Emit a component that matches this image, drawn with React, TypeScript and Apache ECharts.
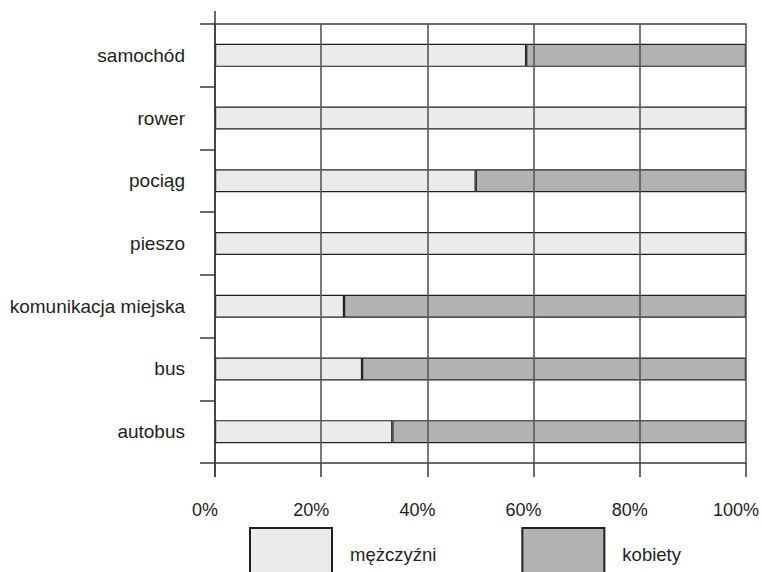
import React, { useEffect, useRef } from "react";
import * as echarts from "echarts";

const categories = ["autobus", "bus", "komunikacja miejska", "pieszo", "pociąg", "rower", "samochód"];
const menValues = [33.4, 27.7, 24.3, 100, 49.1, 100, 58.6];
const womenValues = [66.6, 72.3, 75.7, 0, 50.9, 0, 41.4];
const xTicks = [0, 20, 40, 60, 80, 100];
const seriesNames = ["mężczyźni", "kobiety"];

const FONT = "'Liberation Sans', Arial, sans-serif";
const TEXT = "#231f20";

export default function App() {
  const ref = useRef<HTMLDivElement>(null);
  useEffect(() => {
    if (!ref.current) return;
    const chart = echarts.init(ref.current, null, { renderer: "svg" });
    chart.setOption({
      animation: false,
      backgroundColor: "#ffffff",
      textStyle: { fontFamily: FONT, color: TEXT },
      grid: { left: 215, right: 15, top: 24, bottom: 109, containLabel: false },
      legend: {
        left: 249,
        top: 527,
        padding: 0,
        itemWidth: 82,
        itemHeight: 52,
        itemGap: 85,
        icon: "rect",
        selectedMode: false,
        data: seriesNames,
        textStyle: { fontSize: 18.5, color: TEXT, fontFamily: FONT, padding: [0, 0, 0, 13] },
      },
      xAxis: [
        {
          type: "value",
          min: 0,
          max: 100,
          interval: 20,
          position: "bottom",
          axisLine: { show: true, lineStyle: { color: "#3a3a3c", width: 1.5 } },
          axisTick: { show: true, length: 14, lineStyle: { color: "#3a3a3c", width: 1.5 } },
          splitLine: { show: false },
          axisLabel: {
            formatter: (v: number) => v + "%",
            fontSize: 18,
            color: TEXT,
            fontFamily: FONT,
            margin: 38,
            padding: [0, 20, 0, 0],
          },
        },
        {
          type: "value",
          min: 0,
          max: 100,
          interval: 20,
          position: "top",
          axisLine: { show: true, lineStyle: { color: "#3a3a3c", width: 1.5 } },
          axisTick: { show: false },
          splitLine: { show: false },
          axisLabel: { show: false },
        },
      ],
      yAxis: {
        type: "category",
        data: categories,
        axisLine: { show: true, lineStyle: { color: "#3a3a3c", width: 1.5 } },
        axisTick: { show: true, length: 15, lineStyle: { color: "#3a3a3c", width: 1.5 } },
        axisLabel: { fontSize: 19, color: TEXT, fontFamily: FONT, margin: 30, align: "right" },
      },
      graphic: [
        {
          type: "line",
          shape: { x1: 215, y1: 11, x2: 215, y2: 477 },
          style: { stroke: "#3a3a3c", lineWidth: 1.5 },
          z: 10,
        },
      ],
      series: [
        {
          name: seriesNames[0],
          type: "bar",
          stack: "total",
          barWidth: 23,
          data: menValues,
          itemStyle: { color: "#ebebec", borderColor: TEXT, borderWidth: 1.2 },
        },
        {
          name: seriesNames[1],
          type: "bar",
          stack: "total",
          barWidth: 23,
          data: womenValues,
          itemStyle: { color: "#b1b2b4", borderColor: TEXT, borderWidth: 1.2 },
        },
        {
          name: "grid",
          type: "line",
          data: [],
          z: 5,
          silent: true,
          markLine: {
            silent: true,
            symbol: "none",
            label: { show: false },
            lineStyle: { color: "#58595b", width: 1.6, type: "solid" },
            data: xTicks.filter((t) => t > 0).map((t) => ({ xAxis: t })),
          },
        },
      ],
    });
    return () => chart.dispose();
  }, []);
  return <div ref={ref} style={{ width: 762, height: 572, position: "absolute", left: 0, top: 0 }} />;
}
